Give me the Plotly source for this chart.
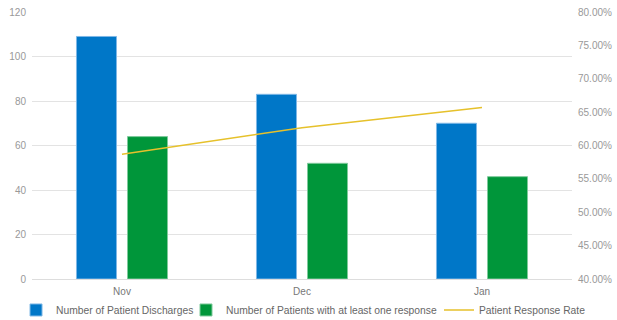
import plotly.graph_objects as go

months = ["Nov", "Dec", "Jan"]
discharges = [109, 83, 70]
responses = [64, 52, 46]
rate = [0.587, 0.6265, 0.657]
left_ticks = [0, 20, 40, 60, 80, 100, 120]
right_ticks = [0.40, 0.45, 0.50, 0.55, 0.60, 0.65, 0.70, 0.75, 0.80]

BLUE = "#0077C8"
GREEN = "#00963A"
GOLD = "#E6C12B"
FONT = "Liberation Sans, Arial, sans-serif"

fig = go.Figure()
fig.add_trace(go.Bar(
    x=months, y=discharges, name="Number of Patient Discharges", legend="legend",
    marker=dict(color=BLUE, line=dict(color="#7FB8E6", width=1)),
))
fig.add_trace(go.Bar(
    x=months, y=responses, name="Number of Patients with at least one response",
    legend="legend2",
    marker=dict(color=GREEN, line=dict(color="#7FCA9C", width=1)),
))
fig.add_trace(go.Scatter(
    x=months, y=rate, name="Patient Response Rate", yaxis="y2", legend="legend3",
    mode="lines", line=dict(color=GOLD, width=1.5),
))

def leg(xpos):
    return dict(orientation="h", x=xpos, xanchor="left", y=-0.116, yanchor="middle",
                font=dict(size=10.3, color="#666666"), itemwidth=30,
                bgcolor="rgba(0,0,0,0)", borderwidth=0)

fig.update_layout(
    width=617, height=320,
    margin=dict(l=32, r=45, t=12, b=41, autoexpand=False),
    paper_bgcolor="white", plot_bgcolor="white",
    font=dict(family=FONT, size=10, color="#999999"),
    barmode="group", bargap=0.433, bargroupgap=0.216,
    showlegend=True,
    legend=leg(-0.0296),
    legend2=leg(0.2852),
    legend3=leg(0.7537),
    xaxis=dict(showgrid=False, showline=True, linecolor="#dddddd", linewidth=1,
               ticks="", ticklabelstandoff=3, tickfont=dict(size=10, color="#777777")),
    yaxis=dict(range=[0, 120], tickvals=left_ticks, showgrid=True,
               gridcolor="#e3e3e3", gridwidth=1, zeroline=False,
               showline=False, ticks="", ticklen=0, ticklabelstandoff=5,
               tickfont=dict(size=10, color="#999999")),
    yaxis2=dict(range=[0.40, 0.80], tickvals=right_ticks, tickformat=".2%",
                overlaying="y", side="right", showgrid=False, zeroline=False,
                showline=False, ticklabelstandoff=5,
                tickfont=dict(size=10, color="#999999")),
)

fig.write_html("out.html")
